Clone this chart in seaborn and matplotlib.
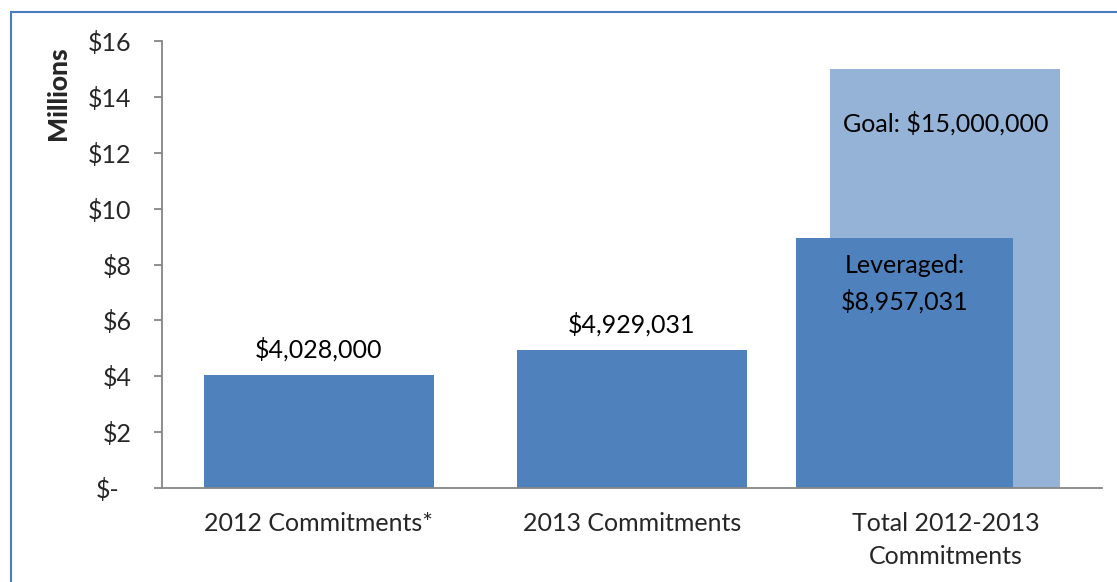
import numpy as np
import pandas as pd
import seaborn as sns
import matplotlib
matplotlib.use("Agg")
import matplotlib.pyplot as plt
from matplotlib.patches import Rectangle
from matplotlib.transforms import ScaledTranslation

# Commitments in millions of dollars
categories = ["2012 Commitments*", "2013 Commitments", "Total 2012-2013\nCommitments"]
commitments = [4.028000, 4.929031, 8.957031]
goal = [np.nan, np.nan, 15.0]
commit_labels = ["$4,028,000", "$4,929,031", "Leveraged:\n$8,957,031"]
goal_label = "Goal: $15,000,000"
y_ticks = [0, 2, 4, 6, 8, 10, 12, 14, 16]
y_tick_labels = ["$-", "$2", "$4", "$6", "$8", "$10", "$12", "$14", "$16"]

df = pd.DataFrame({"category": categories, "commitments": commitments, "goal": goal})

sns.set_theme(style="white")
plt.rcParams["font.family"] = ["Lato", "DejaVu Sans"]

DARK = "#4F81BD"
LIGHT = "#95B3D7"
GREY = "#868686"
FS = 18

fig = plt.figure(figsize=(11.17, 5.82), dpi=100)
ax = fig.add_axes([162 / 1117, 1 - 488 / 582, 940 / 1117, 447 / 582])

# Goal bar behind, full width
sns.barplot(data=df, x="category", y="goal", order=categories, color=LIGHT,
            saturation=1, width=0.735, errorbar=None, linewidth=0, ax=ax)
n_goal = len(ax.patches)
sns.barplot(data=df, x="category", y="commitments", order=categories, color=DARK,
            saturation=1, width=0.735, errorbar=None, linewidth=0, ax=ax)
commit_bars = ax.patches[n_goal:]
commit_bars = [p for p in commit_bars if np.isfinite(p.get_height())]

# The leveraged total bar sits slightly narrower and offset left, overlapping the goal
tot = commit_bars[2]
tot.set_width(0.693)
tot.set_x(2 - 0.13 - 0.693 / 2)

# Value labels
for i in range(2):
    p = commit_bars[i]
    ax.annotate(commit_labels[i], xy=(p.get_x() + p.get_width() / 2, p.get_height()),
                xytext=(0, 19), textcoords="offset points", ha="center", va="center",
                fontsize=FS, color="black")
ax.annotate(commit_labels[2], xy=(tot.get_x() + tot.get_width() / 2, tot.get_height()),
            xytext=(0, -33), textcoords="offset points", ha="center", va="center",
            fontsize=FS, color="black", linespacing=1.6)
ax.annotate(goal_label, xy=(2, goal[2]), xytext=(0, -39), textcoords="offset points",
            ha="center", va="center", fontsize=FS, color="black")

ax.set_xlim(-0.5, 2.5)
ax.set_ylim(0, 16)
ax.set_yticks(y_ticks)
ax.set_yticklabels(y_tick_labels, fontsize=FS)
ax.set_xticks(range(len(categories)))
ax.set_xticklabels(categories, fontsize=FS, linespacing=1.55)
ax.set_xticks([-0.5, 0.5, 1.5, 2.5], minor=True)
ax.tick_params(axis="x", which="major", length=0, pad=17)
ax.tick_params(axis="x", which="minor", length=6, width=1.3, color=GREY, direction="out")
ax.tick_params(axis="y", which="major", length=6, width=1.3, color=GREY,
               direction="out", pad=16, left=True)
ax.set_xlabel("")
ax.set_ylabel("Millions", fontsize=19, fontweight="black")
ax.yaxis.set_label_coords(-92 / 940, (488 - 93) / 447)

for s in ["top", "right"]:
    ax.spines[s].set_visible(False)
for s in ["left", "bottom"]:
    ax.spines[s].set_color(GREY)
    ax.spines[s].set_linewidth(1.3)

# "$-" sits slightly left of the other tick labels
zero_lbl = ax.get_yticklabels()[0]
zero_lbl.set_transform(zero_lbl.get_transform() + ScaledTranslation(-0.12, 0, fig.dpi_scale_trans))

# Chart area frame
fig.patches.append(Rectangle((11 / 1117, -0.2), 1.5, (570 / 582) + 0.2,
                             transform=fig.transFigure, fill=False,
                             edgecolor="#4A7EBB", linewidth=1.5, zorder=0))

fig.savefig("out.png", dpi=100)
